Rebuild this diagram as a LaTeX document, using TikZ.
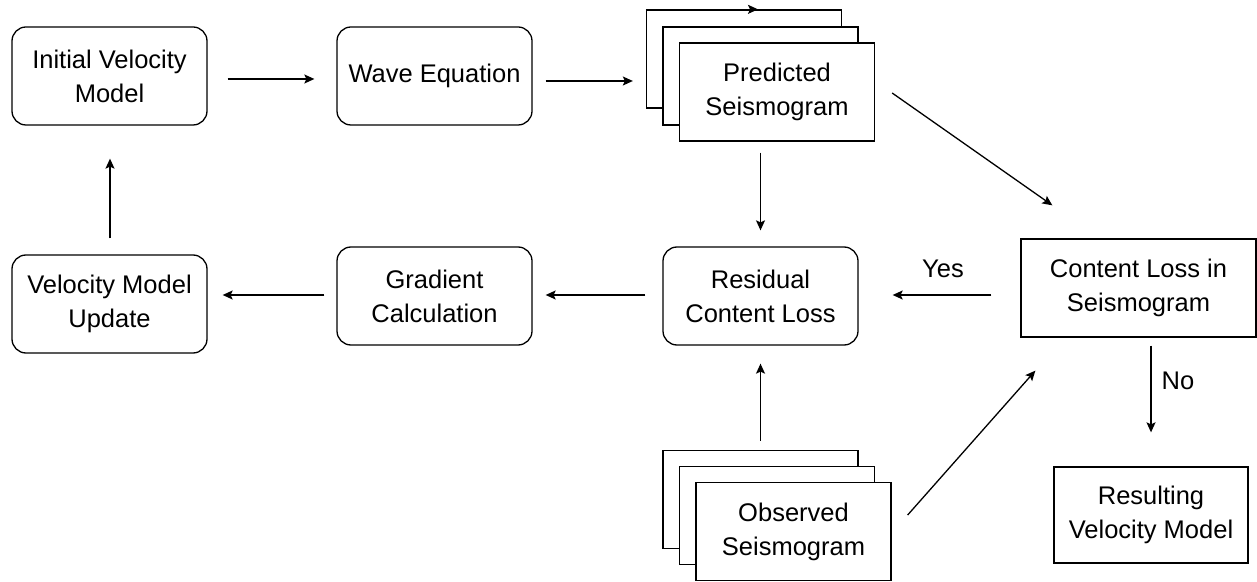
\documentclass[tikz,border=0pt]{standalone}
\usepackage{fontspec}
\setmainfont{Liberation Sans}
\usetikzlibrary{arrows.meta,calc}
\begin{document}
\begin{tikzpicture}[x=0.5pt,y=-0.5pt,
  txt/.style={font=\fontsize{12.75}{17}\selectfont},
  box/.style={txt, draw, line width=0.65pt, fill=white, minimum width=97.5pt,
    minimum height=49pt, inner sep=0pt, align=center},
  rbox/.style={box, rounded corners=7pt},
  arr/.style={line width=0.65pt, -{Stealth[length=5pt,width=4.5pt,inset=1pt]}},
  lbl/.style={txt, inner sep=0pt, anchor=base}]
\useasboundingbox (0,0) rectangle (1257,582);

% top row
\node[rbox] (init) at (109.5,76) {Initial Velocity\\Model};
\node[rbox] (wave) at (434.5,76) {Wave Equation};
\node[box] (pb) at (744,59) {};
\node[box] (pm) at (760.5,76) {};
\node[box] (pf) at (777,92) {Predicted\\Seismogram};

% middle row
\node[rbox] (vmu) at (109.5,304) {Velocity Model\\Update};
\node[rbox] (grad) at (434.5,296) {Gradient\\Calculation};
\node[rbox] (resid) at (760.5,296) {Residual\\Content Loss};
\node[box, minimum width=117.5pt] (closs) at (1138.5,288) {Content Loss in\\Seismogram};

% bottom row
\node[box, minimum width=97pt, minimum height=48pt] (result) at (1151,515) {Resulting\\Velocity Model};
\node[box] (ob) at (760.5,499.5) {};
\node[box] (om) at (777,515.5) {};
\node[box] (of) at (793.5,531.5) {Observed\\Seismogram};

% labels
\node[lbl] (yes) at (943,278) {Yes};
\node[lbl] (no) at (1178,389) {No};

% connectors
\draw[arr] ($(init.east)+(20,3)$) -- ($(wave.west)+(-22,3)$);
\draw[arr] ($(wave.east)+(13,5)$) -- ($(pb.west)+(-13,22)$);
\draw[arr] (pb.north west) -- ($(pb.north)+(14,0)$);
\draw[arr] ($(pf.south -| resid.north)+(0,11)$) -- ($(resid.north)+(0,-16)$);
\draw[arr] ($(pf.east)+(17,1)$) -- ($(closs.north west)+(32,-33)$);
\draw[arr] ($(closs.west)+(-29,7)$) -- ($(resid.east)+(34,-1)$);
\draw[arr] ($(resid.west)+(-17,-1)$) -- ($(grad.east)+(13,-1)$);
\draw[arr] ($(grad.west)+(-12,-1)$) -- ($(vmu.east)+(15,-9)$);
\draw[arr] ($(vmu.north)+(0.5,-16)$) -- ($(init.south)+(0.5,33)$);
\draw[arr] ($(ob.north)+(0,-9)$) -- ($(resid.south)+(0,18)$);
\draw[arr] ($(of.east)+(16,-16.5)$) -- ($(closs.south west)+(15,33)$);
\draw[arr] ($(closs.south -| result.north)+(0,8)$) -- ($(result.north)+(0,-34)$);
\end{tikzpicture}
\end{document}
